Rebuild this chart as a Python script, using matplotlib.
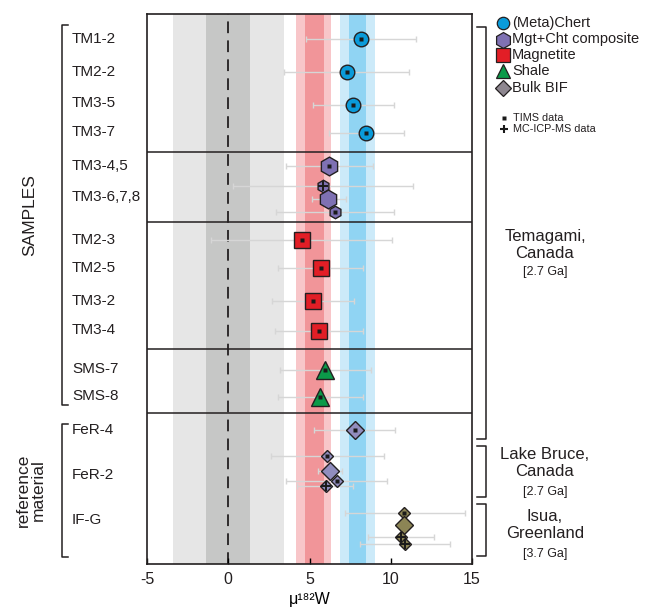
"""Recreation of mu182W compilation plot (Temagami / Lake Bruce / Isua)."""
import numpy as np
import matplotlib
matplotlib.use("Agg")
import matplotlib.pyplot as plt

plt.rcParams["font.family"] = ["Liberation Sans", "DejaVu Sans"]
plt.rcParams["text.color"] = "#231F20"

# ---- data -------------------------------------------------------------
# one entry per plotted point (top to bottom)
mu_val = [8.17, 7.29, 7.70, 8.50,
          6.20, 5.81, 6.14, 6.57,
          4.52, 5.71, 5.19, 5.58,
          5.97, 5.67,
          7.80, 6.10, 6.26, 6.69, 6.00,
          10.83, 10.82, 10.63, 10.88]
err_lo = [4.81, 3.43, 5.24, 6.22,
          3.55, 0.27, 5.13, 2.92,
          -1.06, 3.08, 2.67, 2.88,
          3.17, 3.08,
          5.30, 2.61, 5.50, 3.57, 4.25,
          7.17, np.nan, 8.58, 8.13]
err_hi = [11.57, 11.14, 10.18, 10.80,
          8.93, 11.35, 7.23, 10.22,
          10.08, 8.31, 7.72, 8.27,
          8.80, 8.27,
          10.26, 9.56, 7.00, 9.79, 7.70,
          14.57, np.nan, 12.68, 13.65]
# vertical slot of each point (screen rows, top = 14, bottom = 563)
row_y = [39, 72, 105, 133,
         166, 185.5, 199, 212,
         240, 268, 301, 330.5,
         370, 397,
         430, 456, 470.5, 481, 485.5,
         512.5, 525, 536.5, 544]
kind = ["chert"] * 4 + ["mgt"] * 4 + ["magn"] * 4 + ["shale"] * 2 + ["fer"] * 5 + ["ifg"] * 4
big = [1, 1, 1, 1,
       1, 0, 1, 0,
       1, 1, 1, 1,
       1, 1,
       1, 0, 1, 0, 0,
       0, 1, 0, 0]
method = ["t", "t", "t", "t",
          "t", "p", "", "t",
          "t", "t", "t", "t",
          "t", "t",
          "t", "t", "", "t", "p",
          "t", "", "p", "p"]

sample_labels = ["TM1-2", "TM2-2", "TM3-5", "TM3-7", "TM3-4,5", "TM3-6,7,8",
                 "TM2-3", "TM2-5", "TM3-2", "TM3-4", "SMS-7", "SMS-8",
                 "FeR-4", "FeR-2", "IF-G"]
label_y = [39, 72, 103, 132, 166, 197, 240, 268, 301, 330, 369, 396, 430, 475, 520]
dividers = [152, 221.5, 349, 412.5]

terr_band = (3.4, 1.35)          # modern mantle +-2sd / +-1sd
magn_band = (4.17, 4.70, 5.87, 6.32)
chert_band = (6.86, 7.43, 8.48, 9.03)

legend_names = ["(Meta)Chert", "Mgt+Cht composite", "Magnetite", "Shale", "Bulk BIF"]
legend_keys = ["chert", "mgt", "magn", "shale", "bif"]

# ---- style ------------------------------------------------------------
STYLE = {
    "chert": dict(marker="o", color="#0A9BDA", big=10.5, small=7),
    "mgt":   dict(marker="h", color="#7F71B3", big=13.5, small=9),
    "magn":  dict(marker="s", color="#E21E26", big=11.5, small=7),
    "shale": dict(marker="^", color="#0B9A49", big=12.5, small=8),
    "fer":   dict(marker="D", color="#918DBE", big=9.3, small=6.2),
    "ifg":   dict(marker="D", color="#8C8555", big=9.3, small=6.2),
    "bif":   dict(marker="D", color="#8E8790", big=9.3, small=6.2),
}
ERR = "#D6D6D6"

fig = plt.figure(figsize=(6.48, 6.15), dpi=100)
ax = fig.add_axes([147 / 648, 1 - 563.5 / 615, 325 / 648, 549.5 / 615])
ax.set_xlim(-5, 15)
ax.set_ylim(563.5, 14)

# bands
ax.axvspan(-terr_band[0], terr_band[0], color="#E6E6E6", lw=0, zorder=0)
ax.axvspan(-terr_band[1], terr_band[1], color="#C6C7C6", lw=0, zorder=0)
ax.axvspan(magn_band[0], magn_band[3], color="#F8C6C9", lw=0, zorder=0)
ax.axvspan(magn_band[1], magn_band[2], color="#F19599", lw=0, zorder=0)
ax.axvspan(chert_band[0], chert_band[3], color="#CCEAF9", lw=0, zorder=0)
ax.axvspan(chert_band[1], chert_band[2], color="#90D4F3", lw=0, zorder=0)
ax.axvline(0, color="#231F20", lw=1.3, ls=(0, (6.5, 4)), zorder=1)

for y in dividers:
    ax.axhline(y, color="#231F20", lw=1.1, zorder=1)

mu = np.array(mu_val)
lo = mu - np.array(err_lo)
hi = np.array(err_hi) - mu
ax.errorbar(mu, row_y, xerr=[lo, hi], fmt="none", ecolor=ERR, elinewidth=1.0,
            capsize=2, capthick=1.0, zorder=2)

for x, y, k, b, m in zip(mu_val, row_y, kind, big, method):
    st = STYLE[k]
    ax.plot(x, y, marker=st["marker"], ms=st["big"] if b else st["small"],
            mfc=st["color"], mec="#231F20", mew=1.0, ls="none", zorder=3)
    if m == "t":
        ax.plot(x, y, marker="s", ms=2.8, mfc="#1a1a1a", mec="none", ls="none", zorder=4)
    elif m == "p":
        ax.plot(x, y, marker="+", ms=6.5, mec="#1a1a1a", mew=1.4, ls="none", zorder=4)

ax.set_yticks([])
ax.set_xticks([-5, 0, 5, 10, 15])
ax.set_xticklabels(["-5", "0", "5", "10", "15"])
ax.tick_params(axis="x", direction="in", length=4, width=1, labelsize=11.5, pad=6,
               labelcolor="#231F20")
for s in ax.spines.values():
    s.set_linewidth(1.2)
    s.set_color("#231F20")
ax.set_xlabel("\u03bc\u00b9\u2078\u00b2W", fontsize=11.5, labelpad=4)

# ---- overlay in pixel coordinates for annotations ----------------------
ov = fig.add_axes([0, 0, 1, 1], facecolor="none")
ov.set_xlim(0, 648)
ov.set_ylim(615, 0)
ov.axis("off")

for lab, y in zip(sample_labels, label_y):
    ov.text(72, y, lab, fontsize=11, ha="left", va="center")


def bracket(x, y0, y1, tick, **kw):
    ov.plot([x + tick, x, x, x + tick], [y0, y0, y1, y1], color="#231F20", lw=1.1, **kw)


bracket(62, 25, 405, 6)
bracket(62, 424, 557, 6)
ov.text(30, 215, "SAMPLES", fontsize=12.5, rotation=90, ha="center", va="center")
ov.text(31, 490, "reference\nmaterial", fontsize=12.5, rotation=90, ha="center",
        va="center", linespacing=1.0)

bracket(486, 27, 439, -9)
bracket(486, 446, 497, -9)
bracket(486, 504, 556, -9)

regions = [("Temagami,\nCanada", "[2.7 Ga]", 245, 271.5),
           ("Lake Bruce,\nCanada", "[2.7 Ga]", 463, 491.5),
           ("Isua,\nGreenland", "[3.7 Ga]", 525, 553.5)]
for name, age, ym, ya in regions:
    ov.text(545, ym, name, fontsize=12, ha="center", va="center", linespacing=1.2)
    ov.text(545, ya, age, fontsize=9, ha="center", va="center")

# legend
leg_y = [22.5, 39.5, 55, 71, 87.5]
for name, key, y in zip(legend_names, legend_keys, leg_y):
    st = STYLE[key]
    ov.plot(503, y, marker=st["marker"], ms=st["big"] * 0.85, mfc=st["color"],
            mec="#231F20", mew=0.9, ls="none")
    ov.text(512, y, name, fontsize=10.5, ha="left", va="center")
ov.plot(504, 118, marker="s", ms=3.5, mfc="#1a1a1a", mec="none", ls="none")
ov.text(513, 118, "TIMS data", fontsize=7.8, ha="left", va="center")
ov.plot(504, 129, marker="+", ms=6, mec="#1a1a1a", mew=1.5, ls="none")
ov.text(513, 129, "MC-ICP-MS data", fontsize=7.8, ha="left", va="center")

fig.savefig("out.png", dpi=100)
